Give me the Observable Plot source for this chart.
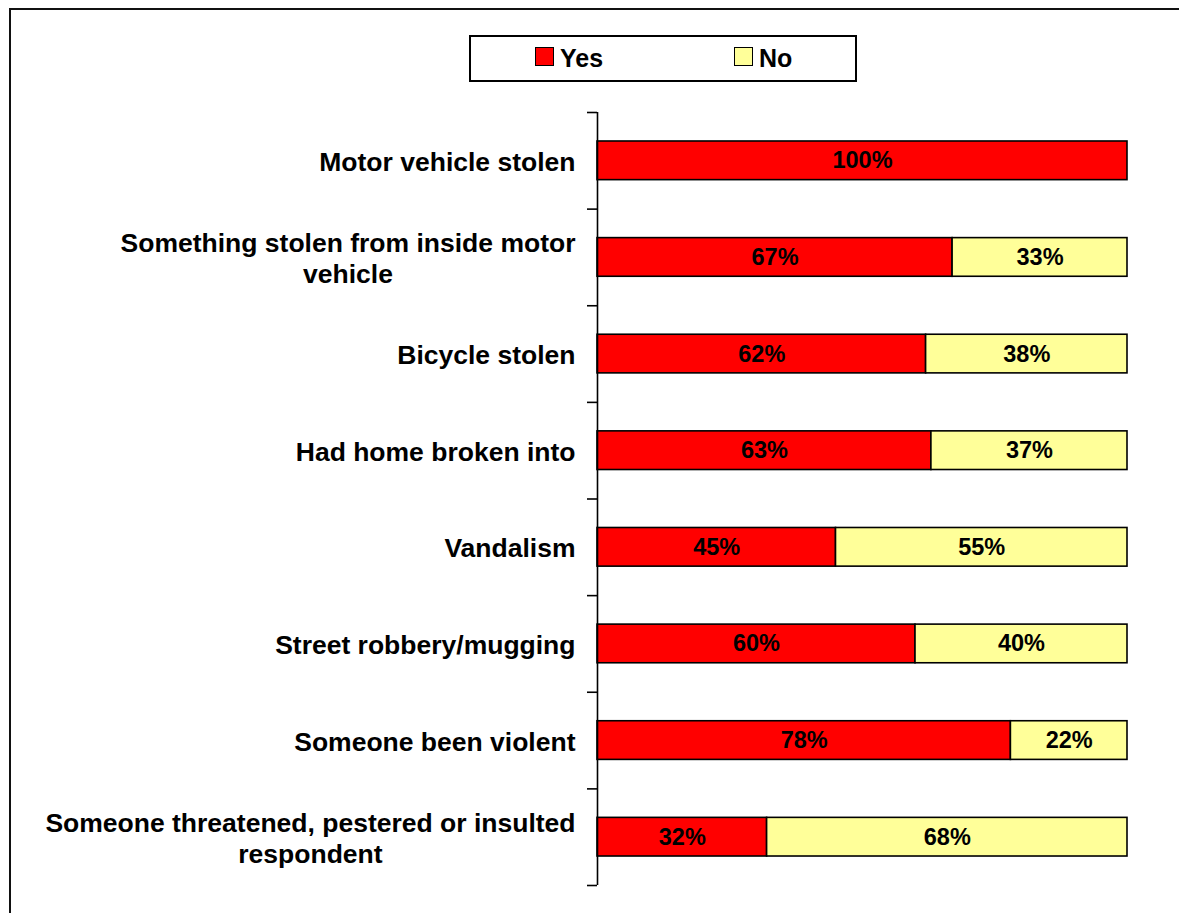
<!DOCTYPE html>
<html><head><meta charset="utf-8">
<script src="https://cdn.jsdelivr.net/npm/d3@7"></script>
<script src="https://cdn.jsdelivr.net/npm/@observablehq/plot@0.6"></script>
<style>
html,body{margin:0;padding:0;background:#fff;overflow:hidden;}
#wrap{position:relative;width:1179px;height:913px;overflow:hidden;font-family:"Liberation Sans",Arial,sans-serif;}
#frame{position:absolute;left:9px;top:8px;width:1300px;height:1000px;border:2px solid #111;box-sizing:border-box;}
#chart{position:absolute;left:0;top:0;}
#legend{position:absolute;left:469px;top:35px;width:388px;height:47px;border:2px solid #000;box-sizing:border-box;background:#fff;}
.sw{position:absolute;width:19px;height:19px;border:1.5px solid #000;box-sizing:border-box;top:10px;}
.lt{position:absolute;top:0;font-size:25px;font-weight:bold;line-height:42px;color:#000;}
</style>
</head><body>
<div id="wrap">
  <div id="frame"></div>
  <div id="chart"></div>
  <div id="legend">
    <div class="sw" style="left:64px;background:#FF0000"></div><div class="lt" style="left:89px">Yes</div>
    <div class="sw" style="left:263px;background:#FFFF99"></div><div class="lt" style="left:288px">No</div>
  </div>
</div>
<script>
const categories = [
  "Motor vehicle stolen",
  "Something stolen from inside motor\nvehicle",
  "Bicycle stolen",
  "Had home broken into",
  "Vandalism",
  "Street robbery/mugging",
  "Someone been violent",
  "Someone threatened, pestered or insulted\nrespondent"
];
const yesValues = [100, 67, 62, 63, 45, 60, 78, 32];
const noValues = [0, 33, 38, 37, 55, 40, 22, 68];
const seriesNames = ["Yes", "No"];
const seriesColors = ["#FF0000", "#FFFF99"];

const segs = [];
categories.forEach((c, i) => {
  segs.push({cat: c, idx: i, series: "Yes", value: yesValues[i], x1: 0, x2: yesValues[i]});
  segs.push({cat: c, idx: i, series: "No", value: noValues[i], x1: yesValues[i], x2: yesValues[i] + noValues[i]});
});
const shown = segs.filter(d => d.value > 0);

const chart = Plot.plot({
  width: 1179,
  height: 913,
  marginLeft: 597,
  marginRight: 52,
  marginTop: 112,
  marginBottom: 28,
  style: {fontFamily: "'Liberation Sans', Arial, sans-serif", background: "transparent", color: "#000"},
  x: {domain: [0, 100], axis: null},
  y: {domain: [0, categories.length], reverse: true, axis: null},
  color: {domain: seriesNames, range: seriesColors},
  marks: [
    Plot.rect(shown, {x1: "x1", x2: "x2", y1: d => d.idx + 0.3, y2: d => d.idx + 0.7, fill: "series", stroke: "#000", strokeWidth: 1.6}),
    Plot.text(shown, {x: d => (d.x1 + d.x2) / 2, y: d => d.idx + 0.5, text: d => d.value + "%", fontSize: 23.5, fontWeight: "bold", fill: "#000"}),
    Plot.ruleX([0], {stroke: "#000", strokeWidth: 1.6}),
    Plot.axisY(d3.range(categories.length + 1), {tickSize: 10, tickFormat: () => "", stroke: "#000", strokeWidth: 1.6}),
    Plot.text(categories, {x: 0, y: (d, i) => i + 0.5, text: d => d, textAnchor: "end", dx: -22, fontSize: 26.5, fontWeight: "bold", lineHeight: 1.18, fill: "#000"})
  ]
});
document.getElementById("chart").appendChild(chart);

// center the wrapped lines of multi-line category labels within their block
chart.querySelectorAll("text").forEach(t => {
  const spans = t.querySelectorAll("tspan");
  if (spans.length > 1) {
    let maxW = 0;
    spans.forEach(s => { maxW = Math.max(maxW, s.getComputedTextLength()); });
    t.setAttribute("text-anchor", "middle");
    spans.forEach(s => s.setAttribute("x", -maxW / 2));
  }
});
</script>
</body></html>
